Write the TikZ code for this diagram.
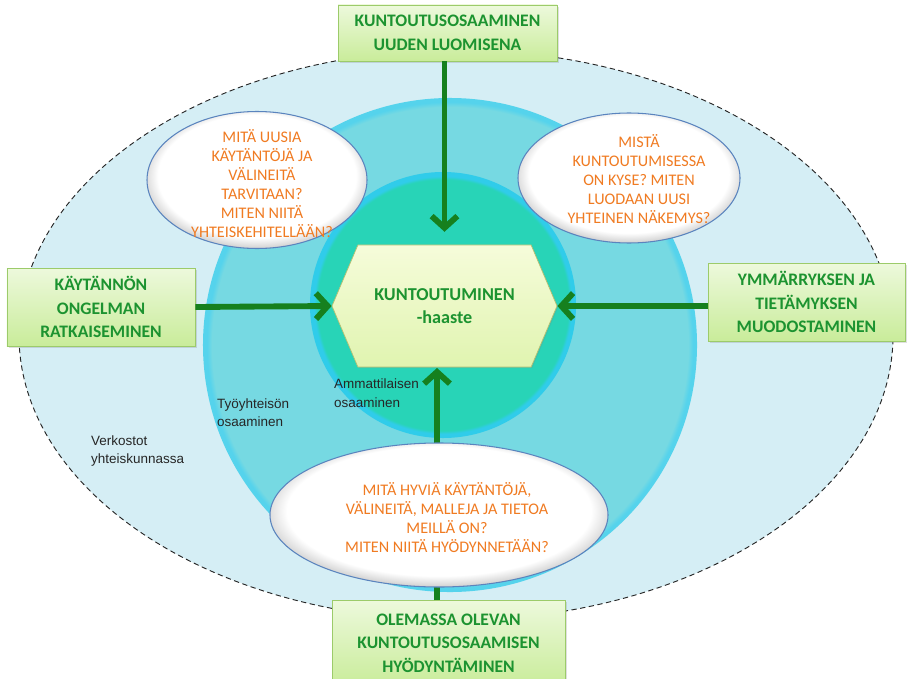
\documentclass[tikz,border=0pt]{standalone}
\usepackage{fontspec}
\setmainfont{Carlito}
\newfontfamily\labelfont{Liberation Sans}
\usetikzlibrary{positioning,shapes.geometric,shapes.symbols,arrows.meta,shadows}

\definecolor{palesky}{HTML}{D5EEF5}
\definecolor{blobcyan}{HTML}{76D9E2}
\definecolor{blobrim}{HTML}{55D3EC}
\definecolor{coreteal}{HTML}{28D4B7}
\definecolor{corerim}{HTML}{30CCEA}
\definecolor{boxtop}{HTML}{EDF9DC}
\definecolor{boxbottom}{HTML}{C9EC9A}
\definecolor{boxline}{HTML}{9CCB6A}
\definecolor{boxtext}{HTML}{1C9330}
\definecolor{hextop}{HTML}{F6FCDA}
\definecolor{hexbottom}{HTML}{E0F4B0}
\definecolor{hexline}{HTML}{B4C072}
\definecolor{flowgreen}{HTML}{16801E}
\definecolor{qorange}{HTML}{F07B22}
\definecolor{qline}{HTML}{5A84BE}

% soft edged discs
\pgfdeclareradialshading{blobfill}{\pgfpoint{0bp}{0bp}}{color(0bp)=(blobcyan); color(24.1bp)=(blobcyan); color(24.6bp)=(blobrim); color(25bp)=(blobrim); color(50bp)=(blobrim)}
\pgfdeclareradialshading{corefill}{\pgfpoint{0bp}{0bp}}{color(0bp)=(coreteal); color(23.6bp)=(coreteal); color(24.2bp)=(corerim); color(25bp)=(corerim); color(50bp)=(corerim)}
\pgfdeclareradialshading{bevel}{\pgfpoint{0bp}{2.5bp}}{color(0bp)=(white); color(22.5bp)=(white); color(25.5bp)=(black!15); color(27.5bp)=(black!30); color(50bp)=(black!30)}

\tikzset{
  goalbox/.style={rectangle, draw=boxline, line width=0.6pt,
    top color=boxtop, bottom color=boxbottom,
    drop shadow={shadow xshift=1.5pt, shadow yshift=-1.5pt, opacity=0.25},
    text=boxtext, font=\fontsize{15}{20}\selectfont\bfseries,
    align=center, inner sep=0pt},
  challenge/.style={signal, signal to=west and east, signal pointer angle=134,
    draw=hexline, line width=0.6pt, top color=hextop, bottom color=hexbottom,
    drop shadow={shadow xshift=1pt, shadow yshift=-1pt, opacity=0.2},
    minimum width=6.75cm, minimum height=3.66cm, inner sep=0pt,
    text=boxtext, font=\fontsize{15.5}{19}\selectfont\bfseries, align=center},
  question/.style={ellipse, draw=qline, line width=0.9pt, shading=bevel, inner sep=0pt},
  qtext/.style={text=qorange, font=\fontsize{13.8}{16.2}\selectfont, align=center, inner sep=0pt},
  level/.style={font=\labelfont\fontsize{11.5}{15.7}\selectfont, text=black!85,
    align=left, anchor=west, inner sep=0pt},
  flow/.style={line width=5pt, draw=flowgreen, -{Straight Barb[length=10pt,width=22pt]}},
  network/.style={draw=black!85, line width=0.8pt, dash pattern=on 4.5pt off 3pt, fill=palesky}
}

\begin{document}
\begin{tikzpicture}[x=0.03cm,y=-0.03cm]
\useasboundingbox (0,0) rectangle (908,678);

% nested areas
\draw[network] (456,335) ellipse [x radius=13.11cm, y radius=8.55cm];
\shade[shading=blobfill] (450,345) circle [radius=7.41cm];
\shade[shading=corefill] (443,305) circle [radius=3.99cm];

\node[level] (verkosto) at (91,451) {Verkostot\\yhteiskunnassa};
\node[level] (tyoyhteiso) at (217,412.5) {Työyhteisön\\osaaminen};
\node[level] (ammatti) at (334,393) {Ammattilaisen\\osaaminen};

% centre and the four approaches
\node[challenge] (hex) at (444.5,306) {KUNTOUTUMINEN\\-haaste};
\node[goalbox, minimum width=6.57cm, minimum height=1.68cm] (newbox) at (447.5,33)
  {KUNTOUTUSOSAAMINEN\\UUDEN LUOMISENA};
\node[goalbox, minimum width=5.64cm, minimum height=2.34cm] (practbox) at (101,307)
  {KÄYTÄNNÖN\\ONGELMAN\\RATKAISEMINEN};
\node[goalbox, minimum width=5.91cm, minimum height=2.34cm] (knowbox) at (806.5,302)
  {YMMÄRRYKSEN JA\\TIETÄMYKSEN\\MUODOSTAMINEN};
\node[goalbox, minimum width=6.99cm, minimum height=2.58cm] (usebox) at (448.5,643)
  {OLEMASSA OLEVAN\\KUNTOUTUSOSAAMISEN\\HYÖDYNTÄMINEN};

\draw[flow, shorten >=11pt] (newbox.south -| hex.north) -- (hex.north);
\draw[flow] (practbox.east) -- (hex.west);
\draw[flow] (knowbox.west |- hex.east) -- (hex.east);
\draw[flow] (437,600) -- (437,368);

% questions
\node[question, minimum width=6.6cm, minimum height=4.11cm] (qnew) at (257,180) {};
\node[qtext] (qnewtext) at (262,183.5)
  {MITÄ UUSIA\\KÄYTÄNTÖJÄ JA\\VÄLINEITÄ\\TARVITAAN?\\MITEN NIITÄ\\YHTEISKEHITELLÄÄN?};
\node[question, minimum width=6.66cm, minimum height=3.9cm] (qshared) at (629,178) {};
\node[qtext] (qsharedtext) at (639,179.5)
  {MISTÄ\\KUNTOUTUMISESSA\\ON KYSE? MITEN\\LUODAAN UUSI\\YHTEINEN NÄKEMYS?};
\node[question, minimum width=10.14cm, minimum height=4.32cm] (qold) at (439,515) {};
\node[qtext] (qoldtext) at (447,518)
  {MITÄ HYVIÄ KÄYTÄNTÖJÄ,\\VÄLINEITÄ, MALLEJA JA TIETOA\\MEILLÄ ON?\\MITEN NIITÄ HYÖDYNNETÄÄN?};
\end{tikzpicture}
\end{document}
